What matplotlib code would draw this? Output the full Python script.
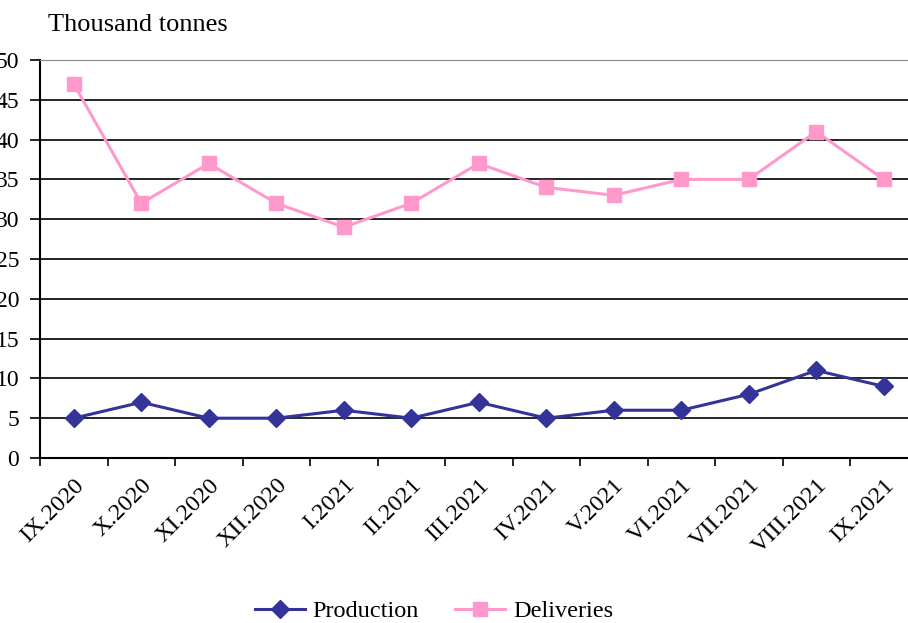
import matplotlib
matplotlib.use("Agg")
import matplotlib.pyplot as plt
import matplotlib.transforms as mtransforms
import numpy as np

categories = ["IX.2020", "X.2020", "XI.2020", "XII.2020", "I.2021", "II.2021",
              "III.2021", "IV.2021", "V.2021", "VI.2021", "VII.2021", "VIII.2021", "IX.2021"]
production = [5, 7, 5, 5, 6, 5, 7, 5, 6, 6, 8, 11, 9]
deliveries = [47, 32, 37, 32, 29, 32, 37, 34, 33, 35, 35, 41, 35]
yticks = [0, 5, 10, 15, 20, 25, 30, 35, 40, 45, 50]

plt.rcParams['font.family'] = ['Liberation Serif', 'DejaVu Serif']

W, H = 908, 623
fig = plt.figure(figsize=(W / 100, H / 100), dpi=100)
left, right, top, bottom = 40, 917.5, 60, 458
ax = fig.add_axes([left / W, 1 - bottom / H, (right - left) / W, (bottom - top) / H])

x = np.arange(len(categories))
l1, = ax.plot(x, production, color='#333399', marker='D', markersize=9, lw=2.2, label='Production')
l2, = ax.plot(x, deliveries, color='#FF99CC', marker='s', markersize=10, lw=2.2, label='Deliveries')

ax.set_xlim(-0.5, len(categories) - 0.5)
ax.set_ylim(0, 50)
ax.set_yticks(yticks)
ax.set_yticklabels([str(v) for v in yticks], fontsize=17)
ax.yaxis.grid(True, color='black', lw=1.2)
ax.set_axisbelow(True)

ax.set_xticks(np.arange(len(categories) + 1) - 0.5, minor=False)
ax.set_xticklabels([])
ax.set_xticks(x, minor=True)
labels = ax.set_xticklabels(categories, minor=True, rotation=45, ha='right',
                            rotation_mode='anchor', fontsize=17.5)
offset = mtransforms.ScaledTranslation(8 / 100, 0, fig.dpi_scale_trans)
for lab in labels:
    lab.set_transform(lab.get_transform() + offset)
ax.tick_params(axis='x', which='minor', length=0, pad=12)
ax.tick_params(axis='x', which='major', length=6, width=1.2, direction='out')
ax.tick_params(axis='y', length=7, width=1.2, direction='out', pad=8)

ax.spines['right'].set_visible(False)
ax.spines['top'].set_color('#888888')
ax.spines['left'].set_linewidth(1.5)
ax.spines['bottom'].set_linewidth(1.5)

fig.text(48 / W, 1 - 25 / H, "Thousand tonnes", fontsize=19, va='center', ha='left')

fig.legend(handles=[l1, l2], loc='center', bbox_to_anchor=(434 / W, 1 - 611 / H), ncol=2,
           frameon=False, fontsize=17.5, handlelength=2.05, columnspacing=1.5, handletextpad=0.33)

fig.savefig("out.png", dpi=100)
